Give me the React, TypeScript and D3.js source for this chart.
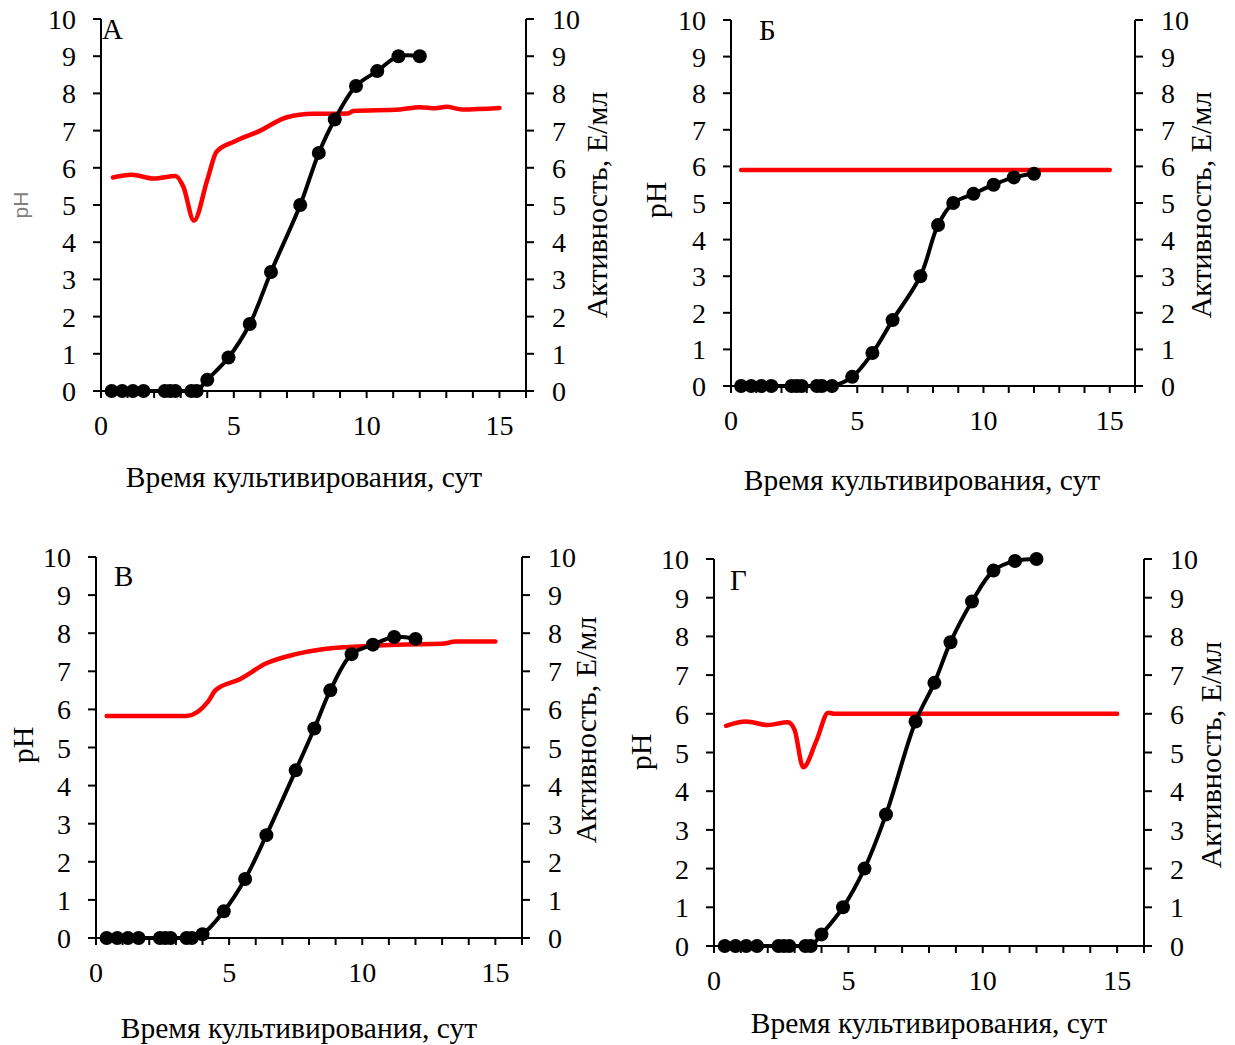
import React from 'react';
import * as d3 from 'd3';

// ---- data ----
const days = [0.4, 0.8, 1.2, 1.6, 2.4, 2.6, 2.8, 3.4, 3.6, 4.0, 4.8, 5.6, 6.4, 7.5, 8.2, 8.8, 9.6, 10.4, 11.2, 12];
const activityA = [0, 0, 0, 0, 0, 0, 0, 0, 0, 0.3, 0.9, 1.8, 3.2, 5.0, 6.4, 7.3, 8.2, 8.6, 9.0, 9.0];
const activityB = [0, 0, 0, 0, 0, 0, 0, 0, 0, 0, 0.25, 0.9, 1.8, 3.0, 4.4, 5.0, 5.25, 5.5, 5.7, 5.8];
const activityV = [0, 0, 0, 0, 0, 0, 0, 0, 0, 0.1, 0.7, 1.55, 2.7, 4.4, 5.5, 6.5, 7.45, 7.7, 7.9, 7.85];
const activityG = [0, 0, 0, 0, 0, 0, 0, 0, 0, 0.3, 1.0, 2.0, 3.4, 5.8, 6.8, 7.85, 8.9, 9.7, 9.95, 10.0];

const phDaysA = [0.45, 1.15, 2.0, 2.8, 3.1, 3.5, 4.0, 4.35, 5.0, 6.0, 7.0, 8.0, 9.3, 9.5, 11.25, 12.0, 12.6, 13.0, 13.6, 15.0];
const phA = [5.74, 5.81, 5.71, 5.78, 5.49, 4.58, 5.67, 6.43, 6.70, 7.0, 7.36, 7.45, 7.46, 7.53, 7.57, 7.63, 7.6, 7.64, 7.57, 7.61];

const phDaysB = [0.4, 15.0];
const phB = [5.9, 5.9];

const phDaysV = [0.4, 3.4, 4.2, 4.5, 5.4, 6.4, 7.5, 8.5, 9.5, 11.3, 13.0, 13.5, 15.0];
const phV = [5.83, 5.83, 6.2, 6.51, 6.79, 7.21, 7.45, 7.58, 7.64, 7.70, 7.72, 7.78, 7.78];

const phDaysG = [0.45, 1.2, 2.0, 2.75, 3.0, 3.32, 3.82, 4.25, 4.5, 15.0];
const phG = [5.69, 5.8, 5.71, 5.78, 5.58, 4.62, 5.32, 6.03, 6.0, 6.0];

const xTicks = [0, 5, 10, 15];
const xMinorTicks = d3.range(1, 16);
const yTicks = d3.range(0, 11);

const panelLetters = ['А', 'Б', 'В', 'Г'];
const xTitle = 'Время культивирования, сут';
const yLeftTitle = 'pH';
const yRightTitle = 'Активность, Е/мл';

// ---- layout ----
type Layout = {
  x0: number; x1: number; yTop: number; yBottom: number;
  letterX: number; letterY: number;
  titleX: number; titleY: number;
  phX: number; phY: number; phGray: boolean;
  actX: number; actY: number;
};

const layouts: Layout[] = [
  { x0: 101, x1: 526, yTop: 19, yBottom: 391, letterX: 102, letterY: 39, titleX: 304, titleY: 487, phX: 28, phY: 205, phGray: true, actX: 607, actY: 205 },
  { x0: 731, x1: 1135, yTop: 20, yBottom: 386, letterX: 759, letterY: 40, titleX: 922, titleY: 490, phX: 666, phY: 200, phGray: false, actX: 1211, actY: 205 },
  { x0: 96, x1: 522, yTop: 557, yBottom: 938, letterX: 114, letterY: 586, titleX: 299, titleY: 1038, phX: 33, phY: 745, phGray: false, actX: 596, actY: 730 },
  { x0: 714, x1: 1144, yTop: 559, yBottom: 946, letterX: 730, letterY: 590, titleX: 929, titleY: 1033, phX: 651, phY: 752, phGray: false, actX: 1221, actY: 755 },
];

const activities = [activityA, activityB, activityV, activityG];
const phDays = [phDaysA, phDaysB, phDaysV, phDaysG];
const phValues = [phA, phB, phV, phG];

const FONT = '"Liberation Serif", "Times New Roman", serif';

function Panel({ idx }: { idx: number }) {
  const L = layouts[idx];
  const x = d3.scaleLinear().domain([0, 16]).range([L.x0, L.x1]);
  const y = d3.scaleLinear().domain([0, 10]).range([L.yBottom, L.yTop]);
  const act = activities[idx];
  const actPts: [number, number][] = days.map((d, i) => [x(d), y(act[i])]);
  const phPts: [number, number][] = phDays[idx].map((d, i) => [x(d), y(phValues[idx][i])]);
  const blackLine = d3.line().curve(d3.curveCatmullRom.alpha(0.5))(actPts) || '';
  const redLine = d3.line().curve(d3.curveMonotoneX)(phPts) || '';
  const tickLen = 8;
  return (
    <g>
      {/* axes */}
      <line x1={L.x0} x2={L.x0} y1={L.yTop} y2={L.yBottom + 7} stroke="#000" strokeWidth={2} />
      <line x1={L.x1} x2={L.x1} y1={L.yTop} y2={L.yBottom + 7} stroke="#000" strokeWidth={2} />
      <line x1={L.x0 - tickLen} x2={L.x1 + tickLen} y1={L.yBottom} y2={L.yBottom} stroke="#000" strokeWidth={2} />
      {yTicks.map(t => (
        <g key={'yt' + t}>
          <line x1={L.x0 - tickLen} x2={L.x0} y1={y(t)} y2={y(t)} stroke="#000" strokeWidth={2} />
          <line x1={L.x1} x2={L.x1 + tickLen} y1={y(t)} y2={y(t)} stroke="#000" strokeWidth={2} />
          <text x={L.x0 - 25} y={y(t) + 10} textAnchor="end" fontFamily={FONT} fontSize={28}>{t}</text>
          <text x={L.x1 + 26} y={y(t) + 10} textAnchor="start" fontFamily={FONT} fontSize={28}>{t}</text>
        </g>
      ))}
      {xMinorTicks.map(t => (
        <line key={'xm' + t} x1={x(t)} x2={x(t)} y1={L.yBottom} y2={L.yBottom + 7} stroke="#000" strokeWidth={2} />
      ))}
      {xTicks.map(t => (
        <text key={'xt' + t} x={x(t)} y={L.yBottom + 44} textAnchor="middle" fontFamily={FONT} fontSize={28}>{t}</text>
      ))}
      {/* series */}
      <path d={redLine} fill="none" stroke="#FF0000" strokeWidth={4.5} strokeLinejoin="round" strokeLinecap="round" />
      <path d={blackLine} fill="none" stroke="#000" strokeWidth={4} strokeLinejoin="round" />
      {actPts.map((p, i) => (
        <circle key={'m' + i} cx={p[0]} cy={p[1]} r={7} fill="#000" />
      ))}
      {/* labels */}
      <text x={L.letterX} y={L.letterY} fontFamily={FONT} fontSize={29}>{panelLetters[idx]}</text>
      <text x={L.titleX} y={L.titleY} textAnchor="middle" fontFamily={FONT} fontSize={29.5}>{xTitle}</text>
      {L.phGray ? (
        <text transform={`translate(${L.phX},${L.phY}) rotate(-90)`} textAnchor="middle" fontFamily='"Liberation Sans", Arial, sans-serif' fontSize={21} fill="#7f7f7f">{yLeftTitle}</text>
      ) : (
        <text transform={`translate(${L.phX},${L.phY}) rotate(-90)`} textAnchor="middle" fontFamily={FONT} fontSize={30}>{yLeftTitle}</text>
      )}
      <text transform={`translate(${L.actX},${L.actY}) rotate(-90)`} textAnchor="middle" fontFamily={FONT} fontSize={30}>{yRightTitle}</text>
    </g>
  );
}

export default function App() {
  return (
    <svg width={1235} height={1045} style={{ position: 'absolute', left: 0, top: 0, background: '#fff' }}>
      <rect x={0} y={0} width={1235} height={1045} fill="#fff" />
      {layouts.map((_, i) => <Panel key={i} idx={i} />)}
    </svg>
  );
}
